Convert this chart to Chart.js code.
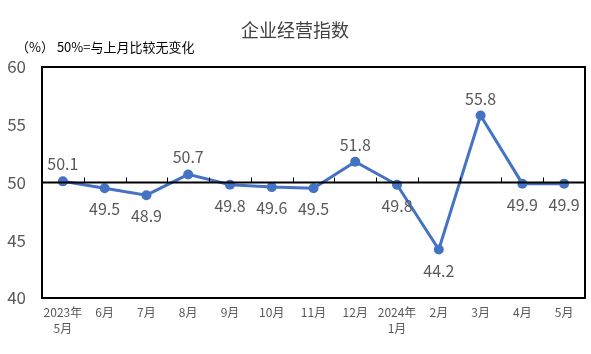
<!DOCTYPE html>
<html>
<head>
<meta charset="utf-8">
<script src="https://cdn.jsdelivr.net/npm/chart.js@4/dist/chart.umd.min.js"></script>
<style>
  body { margin: 0; background: #fff; }
  #wrap { width: 591px; height: 354px; }
</style>
</head>
<body>
<div id="wrap"><canvas id="lineChart"></canvas></div>
<script>
const months = [["2023年", "5月"], "6月", "7月", "8月", "9月", "10月", "11月", "12月", ["2024年", "1月"], "2月", "3月", "4月", "5月"];
const indexValues = [50.1, 49.5, 48.9, 50.7, 49.8, 49.6, 49.5, 51.8, 49.8, 44.2, 55.8, 49.9, 49.9];
const yTicks = [40, 45, 50, 55, 60];
const baseline = 50;

const FONT = '"Noto Sans CJK SC", "Microsoft YaHei", sans-serif';
const GRAY = "#595959";

// frame, 50 line with tick marks, titles and value labels
const decor = {
  id: "decor",
  afterDatasetsDraw(chart) {
    const { ctx, chartArea: a, scales } = chart;
    const y50 = scales.y.getPixelForValue(baseline);
    ctx.save();
    ctx.strokeStyle = "#000";
    ctx.lineWidth = 2;
    ctx.strokeRect(a.left, a.top, a.right - a.left, a.bottom - a.top);

    ctx.beginPath();
    ctx.moveTo(a.left, y50);
    ctx.lineTo(a.right, y50);
    ctx.stroke();
    ctx.lineWidth = 1;
    const step = (a.right - a.left) / months.length;
    for (let i = 1; i < months.length; i++) {
      const x = Math.round(a.left + step * i) + 0.5;
      ctx.beginPath();
      ctx.moveTo(x, y50);
      ctx.lineTo(x, y50 - 5);
      ctx.stroke();
    }
    ctx.restore();
  },
  afterDraw(chart) {
    const { ctx } = chart;
    const meta = chart.getDatasetMeta(0);
    ctx.save();
    ctx.fillStyle = GRAY;
    ctx.font = "16px " + FONT;
    ctx.textAlign = "center";
    ctx.textBaseline = "middle";
    meta.data.forEach((pt, i) => {
      const v = indexValues[i];
      const dy = v > baseline ? -17 : 21;
      ctx.fillText(v.toFixed(1), pt.x, pt.y + dy);
    });

    ctx.fillStyle = "#404040";
    ctx.font = "18px " + FONT;
    ctx.fillText("企业经营指数", 295, 30);

    ctx.fillStyle = "#000";
    ctx.font = "13px " + FONT;
    ctx.textAlign = "left";
    ctx.fillText("（%） 50%=与上月比较无变化", 16, 47);
    ctx.restore();
  }
};

const chart = new Chart(document.getElementById("lineChart").getContext("2d"), {
  type: "line",
  data: {
    labels: months,
    datasets: [{
      data: indexValues,
      borderColor: "#4472C4",
      backgroundColor: "#4472C4",
      borderWidth: 3,
      pointRadius: 5,
      pointBackgroundColor: "#4472C4",
      pointBorderWidth: 0,
      tension: 0
    }]
  },
  options: {
    responsive: true,
    maintainAspectRatio: false,
    animation: false,
    layout: { padding: { top: 67, right: 6, left: 2, bottom: 4 } },
    plugins: {
      legend: { display: false },
      tooltip: { enabled: false }
    },
    scales: {
      x: {
        offset: true,
        grid: { display: false, drawTicks: false },
        border: { display: false },
        afterFit: axis => { axis.height = 52; },
        ticks: { color: GRAY, font: { size: 12, family: FONT, lineHeight: 1.3 }, padding: 7, maxRotation: 0, autoSkip: false }
      },
      y: {
        min: 40,
        max: 60,
        afterBuildTicks: axis => { axis.ticks = yTicks.map(v => ({ value: v })); },
        afterFit: axis => { axis.width = 40; },
        grid: { display: false, drawTicks: false },
        border: { display: false },
        ticks: { color: GRAY, font: { size: 17, family: FONT }, padding: 16 }
      }
    }
  },
  plugins: [decor]
});
</script>
</body>
</html>
